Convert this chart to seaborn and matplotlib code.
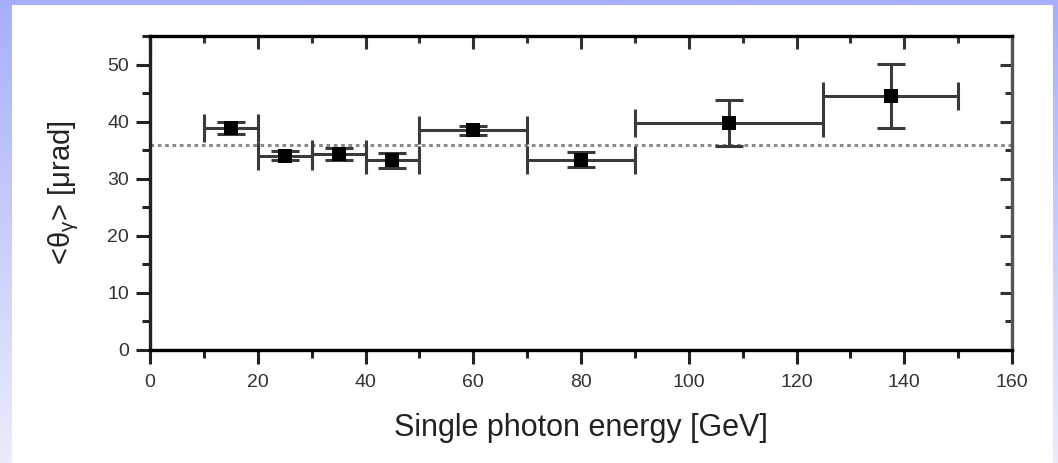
import numpy as np
import pandas as pd
import matplotlib
matplotlib.use("Agg")
import matplotlib.pyplot as plt
from matplotlib.patches import Rectangle
from matplotlib.ticker import MultipleLocator
import seaborn as sns

# ---- data ----
energy = [15, 25, 35, 45, 60, 80, 107.5, 137.5]
theta = [38.9, 34.0, 34.3, 33.2, 38.5, 33.3, 39.8, 44.5]
bin_lo = [10, 20, 30, 40, 50, 70, 90, 125]
bin_hi = [20, 30, 40, 50, 70, 90, 125, 150]
theta_err = [1.0, 0.8, 1.0, 1.3, 0.8, 1.3, 4.0, 5.6]
mean_theta = 35.9
xticks = [0, 20, 40, 60, 80, 100, 120, 140, 160]
yticks = [0, 10, 20, 30, 40, 50]

df = pd.DataFrame({"energy": energy, "theta": theta})
xerr = np.array([np.array(energy) - np.array(bin_lo), np.array(bin_hi) - np.array(energy)])

sns.set_style("white")
plt.rcParams['font.family'] = ['Liberation Sans', 'DejaVu Sans']
plt.rcParams['mathtext.fontset'] = 'custom'
plt.rcParams['mathtext.rm'] = 'Liberation Sans'
plt.rcParams['mathtext.it'] = 'Liberation Sans'

W, H = 1058, 463
fig = plt.figure(figsize=(W / 100, H / 100), dpi=100)

# slide background gradient
bg = fig.add_axes([0, 0, 1, 1], zorder=-10)
top = np.array([167, 175, 250]) / 255
bot = np.array([234, 237, 252]) / 255
t = np.linspace(0, 1, 256)[:, None]
grad = top[None, :] * (1 - t) + bot[None, :] * t
bg.imshow(grad[:, None, :], aspect='auto', extent=[0, 1, 0, 1])
bg.add_patch(Rectangle((12 / W, 0), 1041 / W, 458 / H, facecolor='white',
                       edgecolor='none', transform=bg.transAxes))
bg.set_axis_off()

ax = fig.add_axes([150 / W, 1 - 350 / H, (1012 - 150) / W, (350 - 36) / H])
ax.set_facecolor('none')

ax.axhline(mean_theta, color='#8a8a8a', linestyle=(0, (1.2, 1.2)), linewidth=2.2, zorder=1)

ax.errorbar(energy, theta, xerr=xerr, yerr=theta_err, fmt='none',
            ecolor='#3a3a3a', elinewidth=2.2, capsize=10, capthick=2.2, zorder=2)
sns.scatterplot(data=df, x="energy", y="theta", marker='s', s=115, color='black',
                edgecolor='black', linewidth=0, ax=ax, zorder=3)

ax.set_xlim(0, 160)
ax.set_ylim(0, 55)
ax.set_xticks(xticks)
ax.set_yticks(yticks)
ax.xaxis.set_minor_locator(MultipleLocator(10))
ax.yaxis.set_minor_locator(MultipleLocator(5))

for sp in ax.spines.values():
    sp.set_visible(True)
    sp.set_linewidth(2.4)
    sp.set_color('black')
ax.spines['right'].set_color('#555555')
ax.spines['left'].set_color('#222222')

ax.tick_params(axis='both', which='both', color='#222222', width=2.2,
               bottom=True, left=True, top=True, right=True)
ax.tick_params(axis='x', which='major', length=10, pad=7, labelsize=14, labelcolor='#333333')
ax.tick_params(axis='y', which='major', length=10, pad=5, labelsize=14, labelcolor='#333333')
ax.tick_params(axis='both', which='minor', length=6)
ax.tick_params(axis='x', which='both', direction='out', top=False)
ax.tick_params(axis='y', which='both', direction='out', right=False)

# inward ticks on top and right via secondary axes
secx = ax.secondary_xaxis('top')
secx.set_xticks(xticks)
secx.xaxis.set_minor_locator(MultipleLocator(10))
secx.tick_params(which='major', direction='in', length=9, width=2.2, color='#333333', labeltop=False)
secx.tick_params(which='minor', direction='in', length=5, width=2.2, color='#333333')
secx.spines['top'].set_visible(False)
secy = ax.secondary_yaxis('right')
secy.set_yticks(yticks)
secy.yaxis.set_minor_locator(MultipleLocator(5))
secy.tick_params(which='major', direction='in', length=9, width=2.2, color='#333333', labelright=False)
secy.tick_params(which='minor', direction='in', length=5, width=2.2, color='#333333')
secy.spines['right'].set_visible(False)

ax.set_xlabel('Single photon energy [GeV]', fontsize=22, color='#222222', labelpad=16)
ax.set_ylabel(r'<θ$_{\mathrm{γ}}$> [μrad]', fontsize=21, color='#222222', labelpad=19)

fig.savefig('out.png', dpi=100)
